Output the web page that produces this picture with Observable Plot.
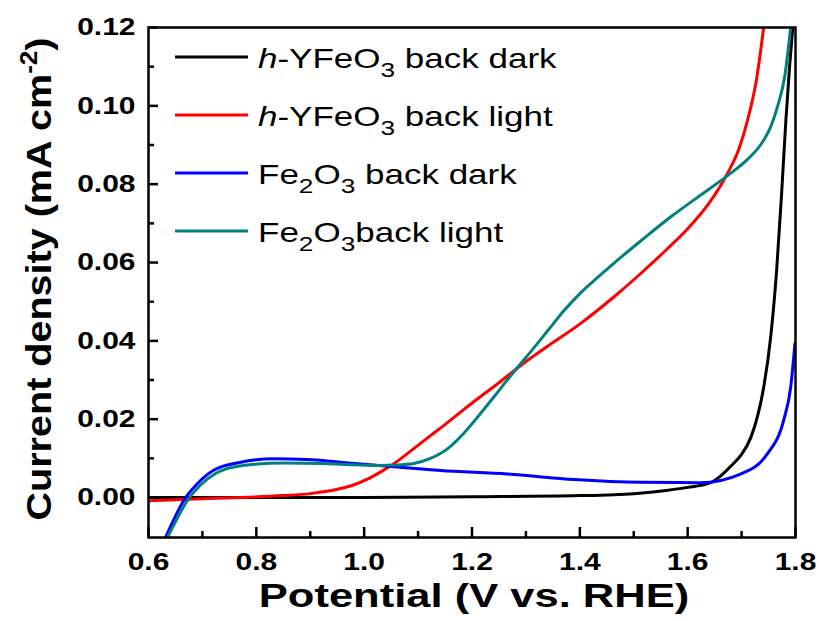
<!DOCTYPE html>
<html><head><meta charset="utf-8">
<script src="https://cdn.jsdelivr.net/npm/d3@7"></script>
<script src="https://cdn.jsdelivr.net/npm/@observablehq/plot@0.6"></script>
<style>body{margin:0;background:#fff}</style>
</head><body><div id="chart"></div>
<script>
const seriesNames = ["h-YFeO3 back dark", "h-YFeO3 back light", "Fe2O3 back dark", "Fe2O3back light"];
const seriesColors = ["#000000", "#ff0000", "#0000ff", "#008080"];

const blackX = [0.6, 0.8, 1.0, 1.2, 1.4, 1.5, 1.56, 1.6, 1.643, 1.685, 1.70, 1.717, 1.73, 1.741, 1.754, 1.765, 1.774, 1.782, 1.789, 1.795];
const blackY = [0, 0, 0, 0.0002, 0.0005, 0.001, 0.0018, 0.0026, 0.0038, 0.0087, 0.011, 0.0153, 0.021, 0.0281, 0.041, 0.058, 0.077, 0.096, 0.11, 0.12];

const redX = [0.6, 0.7, 0.771, 0.85, 0.9, 0.95, 0.98, 1.006, 1.03, 1.062, 1.092, 1.123, 1.155, 1.184, 1.216, 1.247, 1.296, 1.34, 1.401, 1.463, 1.513, 1.56, 1.6, 1.64, 1.674, 1.695, 1.711, 1.728, 1.741];
const redY = [-0.0008, -0.0003, 0, 0.0005, 0.001, 0.0021, 0.0032, 0.0047, 0.0065, 0.0093, 0.0125, 0.0158, 0.0192, 0.0224, 0.0258, 0.029, 0.0343, 0.0386, 0.0444, 0.0512, 0.0572, 0.0632, 0.0686, 0.0752, 0.0828, 0.089, 0.0963, 0.107, 0.12];

const blueX = [0.6315, 0.646, 0.665, 0.691, 0.72, 0.771, 0.832, 0.895, 0.956, 1.017, 1.05, 1.142, 1.266, 1.39, 1.513, 1.624, 1.698, 1.748, 1.778, 1.791, 1.799];
const blueY = [-0.0102, -0.0059, -0.0008, 0.0036, 0.0069, 0.009, 0.0099, 0.0097, 0.009, 0.0083, 0.0079, 0.0069, 0.006, 0.0046, 0.0039, 0.0038, 0.006, 0.0112, 0.0197, 0.0281, 0.0393];

const tealX = [0.635, 0.65, 0.67, 0.695, 0.725, 0.775, 0.85, 0.92, 0.98, 1.03, 1.06, 1.092, 1.123, 1.155, 1.184, 1.216, 1.247, 1.277, 1.296, 1.34, 1.37, 1.401, 1.433, 1.463, 1.513, 1.57, 1.624, 1.674, 1.71, 1.735, 1.755, 1.767, 1.78, 1.791];
const tealY = [-0.0102, -0.0062, -0.0012, 0.003, 0.0062, 0.0082, 0.0088, 0.0087, 0.0084, 0.0082, 0.0083, 0.0087, 0.0100, 0.0125, 0.0163, 0.0215, 0.0268, 0.032, 0.0351, 0.0425, 0.0476, 0.0522, 0.0562, 0.0598, 0.0655, 0.0718, 0.0772, 0.0822, 0.0862, 0.09, 0.095, 0.1, 0.1075, 0.12];

const xMajor = [0.6, 0.8, 1.0, 1.2, 1.4, 1.6, 1.8];
const xMinor = [0.7, 0.9, 1.1, 1.3, 1.5, 1.7];
const yMajor = [0, 0.02, 0.04, 0.06, 0.08, 0.10, 0.12];
const yMinor = [0.01, 0.03, 0.05, 0.07, 0.09, 0.11];

const seriesXs = [blackX, redX, blueX, tealX];
const seriesYs = [blackY, redY, blueY, tealY];
const rows = seriesNames.flatMap((name, i) => seriesXs[i].map((x, j) => ({series: name, x, y: seriesYs[i][j]})));

const W = 819, H = 621, mL = 148, mR = 24, mT = 27, mB = 84;
const innerW = W - mL - mR, innerH = H - mT - mB;
const font = "'Liberation Sans', Arial, sans-serif";

const svg = Plot.plot({
  width: W, height: H,
  marginLeft: mL, marginRight: mR, marginTop: mT, marginBottom: mB,
  style: {fontFamily: font, fontSize: "24px", fontWeight: "bold", background: "#fff", color: "#000"},
  x: {domain: [0.6, 1.8]},
  y: {domain: [-0.0102, 0.12]},
  color: {domain: seriesNames, range: seriesColors},
  marks: [
    Plot.line(rows, {x: "x", y: "y", z: "series", stroke: "series", strokeWidth: 3, curve: "monotone-x", clip: true}),
    Plot.tickX(xMajor, {x: d => d, insetTop: innerH - 10, strokeWidth: 2.5}),
    Plot.tickX(xMinor, {x: d => d, insetTop: innerH - 6, strokeWidth: 2.5}),
    Plot.tickY(yMajor, {y: d => d, insetRight: innerW - 10, strokeWidth: 2.5}),
    Plot.tickY(yMinor, {y: d => d, insetRight: innerW - 6, strokeWidth: 2.5}),
    Plot.frame({strokeWidth: 2.5}),
    Plot.axisX(xMajor, {tickSize: 0, tickPadding: 15, tickFormat: d3.format(".1f"), label: null}),
    Plot.axisY(yMajor, {tickSize: 0, tickPadding: 13, tickFormat: d3.format(".2f"), label: null})
  ]
});

const s = d3.select(svg);

// horizontally widen tick labels like the reference typeface
s.selectAll('g[aria-label="x-axis tick label"] text, g[aria-label="y-axis tick label"] text').each(function() {
  const t = this.getAttribute("transform") || "";
  this.setAttribute("transform", `${t} scale(1.25,1)`);
});

// axis titles
s.append("text").attr("transform", "translate(474,607) scale(1.28,1)").attr("text-anchor", "middle")
  .attr("font-family", font).attr("font-size", 34).attr("font-weight", "bold").attr("fill", "#000")
  .text("Potential (V vs. RHE)");
const yt = s.append("text").attr("transform", "translate(51,279) rotate(-90) scale(1.13,1)").attr("text-anchor", "middle")
  .attr("font-family", font).attr("font-size", 35).attr("font-weight", "bold").attr("fill", "#000");
yt.append("tspan").text("Current density (mA cm");
yt.append("tspan").attr("font-size", 23).attr("dy", -14).text("-2");
yt.append("tspan").attr("dy", 14).text(")");

// legend
const legendRows = [
  [{t: "h", i: true}, {t: "-YFeO"}, {t: "3", sub: true}, {t: " back dark"}],
  [{t: "h", i: true}, {t: "-YFeO"}, {t: "3", sub: true}, {t: " back light"}],
  [{t: "Fe"}, {t: "2", sub: true}, {t: "O"}, {t: "3", sub: true}, {t: " back dark"}],
  [{t: "Fe"}, {t: "2", sub: true}, {t: "O"}, {t: "3", sub: true}, {t: "back light"}]
];
const lg = s.append("g");
legendRows.forEach((parts, i) => {
  const y = 57 + i * 58;
  lg.append("line").attr("x1", 175).attr("x2", 248).attr("y1", y).attr("y2", y)
    .attr("stroke", seriesColors[i]).attr("stroke-width", 3);
  const t = lg.append("text").attr("transform", `translate(258,${y + 11}) scale(1.25,1)`)
    .attr("text-anchor", "start").attr("font-weight", "normal")
    .attr("font-family", font).attr("font-size", 28).attr("fill", "#000");
  let shifted = false;
  parts.forEach(p => {
    const ts = t.append("tspan").text(p.t);
    if (p.i) ts.attr("font-style", "italic");
    if (p.sub && !shifted) { ts.attr("dy", 9).attr("font-size", 21); shifted = true; }
    else if (p.sub && shifted) { ts.attr("font-size", 21); }
    else if (!p.sub && shifted) { ts.attr("dy", -9); shifted = false; }
  });
});

document.getElementById("chart").appendChild(svg);
</script>
</body></html>
